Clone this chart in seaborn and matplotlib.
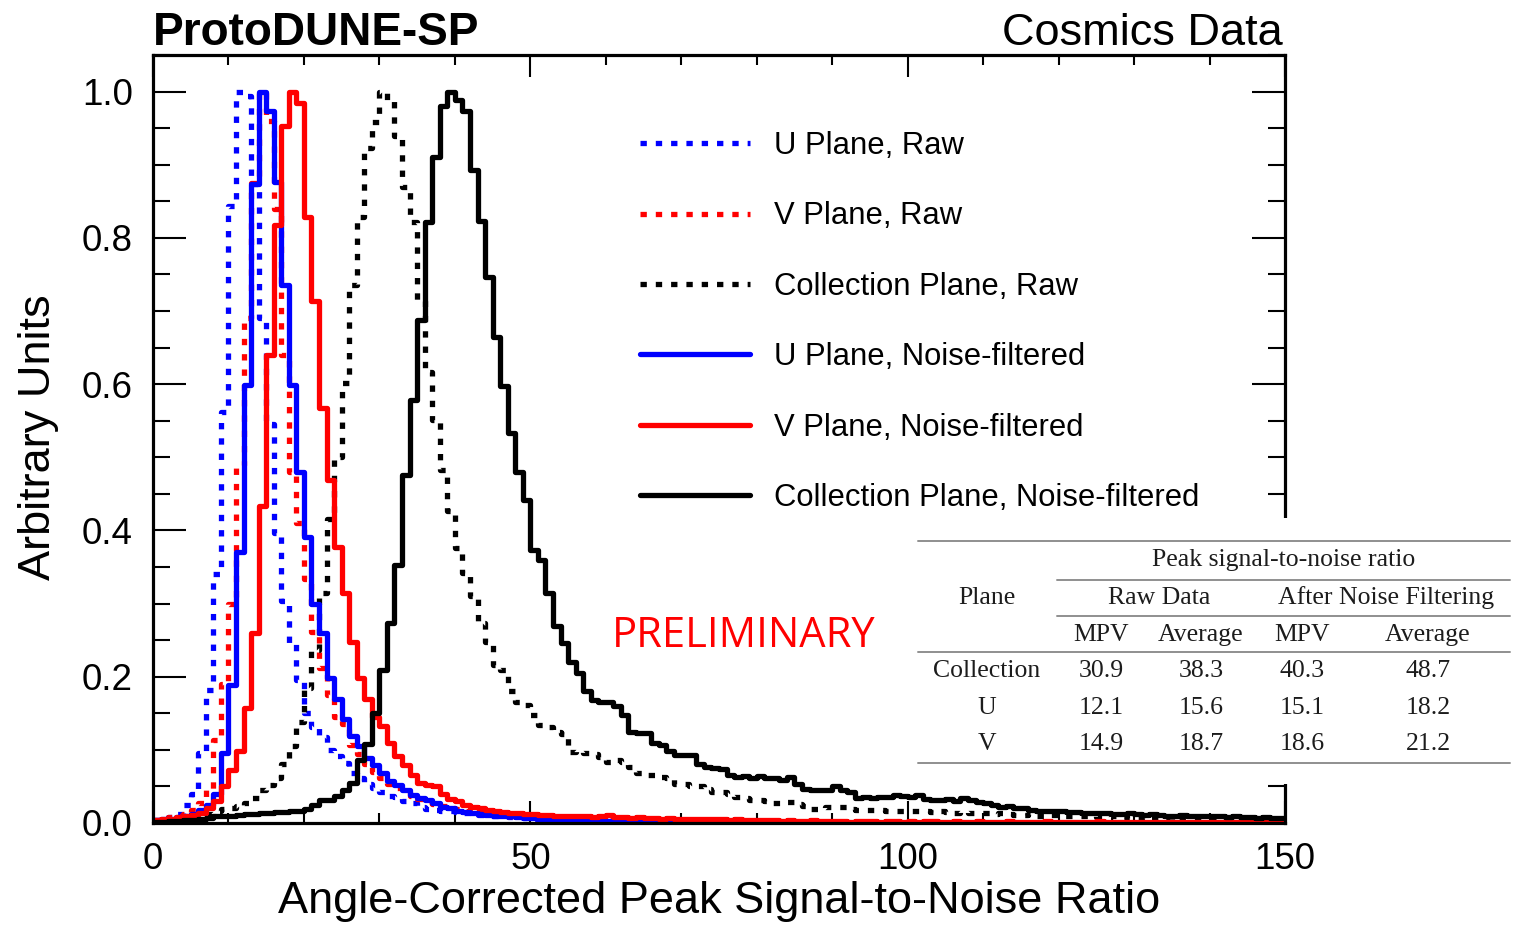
import numpy as np
import pandas as pd
import matplotlib
matplotlib.use("Agg")
import matplotlib.pyplot as plt
from matplotlib.lines import Line2D
from matplotlib.patches import Rectangle
from matplotlib.ticker import MultipleLocator, FormatStrFormatter
import seaborn as sns

# ---------------------------------------------------------------------------
# Normalised peak S/N distributions, unit-width bins starting at 0
# ---------------------------------------------------------------------------
u_raw = [
    0.004, 0.006, 0.008, 0.012, 0.025, 0.040, 0.096, 0.182, 0.340, 0.562,
    0.843, 1.000, 0.994, 0.873, 0.690, 0.545, 0.397, 0.303, 0.246, 0.196,
    0.150, 0.131, 0.118, 0.100, 0.091, 0.082, 0.068, 0.061, 0.054, 0.048,
    0.043, 0.037, 0.035, 0.030, 0.027, 0.022, 0.019, 0.018, 0.017, 0.016,
    0.015, 0.014, 0.012, 0.011, 0.010, 0.010, 0.009, 0.008, 0.008, 0.007,
    0.006, 0.006, 0.005, 0.005, 0.005, 0.004, 0.004, 0.004, 0.003, 0.003,
    0.003, 0.002, 0.002, 0.002, 0.002, 0.002, 0.001, 0.001, 0.001, 0.001,
]

v_raw = [
    0.004, 0.006, 0.008, 0.010, 0.012, 0.018, 0.027, 0.045, 0.113, 0.190,
    0.300, 0.490, 0.690, 0.875, 1.000, 0.960, 0.840, 0.640, 0.480, 0.410,
    0.333, 0.261, 0.212, 0.175, 0.145, 0.135, 0.107, 0.095, 0.080, 0.070,
    0.062, 0.054, 0.048, 0.042, 0.037, 0.033, 0.029, 0.026, 0.023, 0.021,
    0.019, 0.017, 0.015, 0.014, 0.012, 0.011, 0.010, 0.010, 0.009, 0.008,
    0.008, 0.007, 0.007, 0.006, 0.006, 0.005, 0.005, 0.005, 0.004, 0.004,
    0.004, 0.003, 0.003, 0.003, 0.003, 0.002, 0.002, 0.002, 0.002, 0.002,
]

c_raw = [
    0.003, 0.003, 0.004, 0.005, 0.006, 0.007, 0.009, 0.012, 0.016, 0.019,
    0.021, 0.023, 0.027, 0.034, 0.045, 0.052, 0.062, 0.080, 0.105, 0.138,
    0.185, 0.237, 0.315, 0.415, 0.500, 0.602, 0.736, 0.829, 0.923, 0.959,
    1.000, 0.988, 0.939, 0.869, 0.821, 0.713, 0.616, 0.551, 0.483, 0.426,
    0.376, 0.342, 0.310, 0.273, 0.247, 0.216, 0.209, 0.180, 0.165, 0.162,
    0.148, 0.134, 0.131, 0.125, 0.122, 0.097, 0.098, 0.096, 0.095, 0.090,
    0.084, 0.086, 0.084, 0.077, 0.068, 0.066, 0.066, 0.063, 0.061, 0.054,
    0.054, 0.050, 0.050, 0.047, 0.043, 0.043, 0.040, 0.036, 0.034, 0.031,
    0.031, 0.030, 0.028, 0.028, 0.029, 0.026, 0.023, 0.019, 0.019, 0.022,
    0.022, 0.022, 0.019, 0.018, 0.018, 0.018, 0.018, 0.016, 0.016, 0.016,
    0.017, 0.016, 0.017, 0.015, 0.016, 0.015, 0.014, 0.015, 0.014, 0.013,
    0.013, 0.012, 0.013, 0.012, 0.011, 0.011, 0.012, 0.010, 0.010, 0.011,
    0.010, 0.009, 0.009, 0.010, 0.009, 0.008, 0.008, 0.009, 0.008, 0.007,
    0.007, 0.008, 0.007, 0.007, 0.006, 0.007, 0.006, 0.006, 0.006, 0.005,
    0.006, 0.005, 0.005, 0.005, 0.005, 0.004, 0.005, 0.004, 0.004, 0.004,
]

u_filt = [
    0.004, 0.005, 0.006, 0.008, 0.010, 0.012, 0.018, 0.025, 0.040, 0.096,
    0.189, 0.371, 0.599, 0.873, 1.000, 0.973, 0.877, 0.736, 0.599, 0.480,
    0.391, 0.300, 0.260, 0.198, 0.170, 0.142, 0.119, 0.105, 0.089, 0.079,
    0.069, 0.058, 0.052, 0.045, 0.038, 0.034, 0.031, 0.027, 0.022, 0.020,
    0.017, 0.015, 0.014, 0.012, 0.011, 0.010, 0.009, 0.009, 0.008, 0.007,
    0.007, 0.006, 0.006, 0.005, 0.005, 0.005, 0.004, 0.004, 0.004, 0.003,
    0.003, 0.003, 0.002, 0.002, 0.002, 0.002, 0.002, 0.001, 0.001, 0.001,
]

v_filt = [
    0.004, 0.005, 0.006, 0.008, 0.010, 0.011, 0.014, 0.020, 0.030, 0.050,
    0.072, 0.098, 0.157, 0.260, 0.433, 0.640, 0.818, 0.953, 1.000, 0.985,
    0.828, 0.713, 0.568, 0.469, 0.378, 0.315, 0.248, 0.198, 0.170, 0.145,
    0.132, 0.109, 0.091, 0.079, 0.066, 0.055, 0.052, 0.050, 0.040, 0.033,
    0.030, 0.025, 0.022, 0.020, 0.018, 0.016, 0.015, 0.014, 0.013, 0.012,
    0.012, 0.011, 0.011, 0.010, 0.010, 0.009, 0.010, 0.009, 0.008, 0.009,
    0.011, 0.008, 0.008, 0.007, 0.008, 0.007, 0.007, 0.006, 0.007, 0.006,
    0.006, 0.005, 0.006, 0.005, 0.005, 0.005, 0.004, 0.005, 0.004, 0.004,
    0.004, 0.004, 0.004, 0.003, 0.004, 0.003, 0.003, 0.004, 0.003, 0.003,
    0.003, 0.003, 0.002, 0.003, 0.003, 0.003, 0.002, 0.003, 0.003, 0.002,
    0.003, 0.002, 0.003, 0.003, 0.002, 0.002, 0.003, 0.002, 0.002, 0.003,
    0.002, 0.002, 0.002, 0.003, 0.002, 0.002, 0.002, 0.002, 0.003, 0.002,
    0.002, 0.002, 0.002, 0.002, 0.002, 0.003, 0.002, 0.002, 0.002, 0.002,
    0.002, 0.002, 0.002, 0.002, 0.002, 0.002, 0.002, 0.002, 0.002, 0.002,
    0.002, 0.002, 0.002, 0.002, 0.002, 0.002, 0.002, 0.002, 0.002, 0.002,
]

c_filt = [
    0.002, 0.002, 0.003, 0.003, 0.004, 0.004, 0.005, 0.007, 0.009, 0.010,
    0.010, 0.011, 0.012, 0.012, 0.013, 0.014, 0.015, 0.015, 0.016, 0.017,
    0.019, 0.024, 0.031, 0.032, 0.037, 0.045, 0.055, 0.086, 0.108, 0.150,
    0.209, 0.273, 0.353, 0.476, 0.579, 0.688, 0.821, 0.911, 0.980, 1.000,
    0.989, 0.973, 0.893, 0.823, 0.746, 0.665, 0.597, 0.533, 0.480, 0.442,
    0.373, 0.360, 0.315, 0.269, 0.246, 0.220, 0.205, 0.180, 0.168, 0.165,
    0.165, 0.160, 0.147, 0.124, 0.123, 0.123, 0.109, 0.106, 0.098, 0.093,
    0.093, 0.093, 0.080, 0.076, 0.075, 0.074, 0.065, 0.063, 0.064, 0.062,
    0.064, 0.061, 0.061, 0.059, 0.063, 0.054, 0.046, 0.045, 0.045, 0.045,
    0.050, 0.045, 0.043, 0.034, 0.035, 0.034, 0.035, 0.036, 0.038, 0.037,
    0.036, 0.038, 0.033, 0.032, 0.031, 0.033, 0.030, 0.034, 0.032, 0.029,
    0.028, 0.025, 0.022, 0.023, 0.021, 0.020, 0.018, 0.017, 0.016, 0.017,
    0.016, 0.015, 0.015, 0.013, 0.013, 0.014, 0.013, 0.012, 0.012, 0.013,
    0.012, 0.011, 0.012, 0.011, 0.010, 0.010, 0.011, 0.010, 0.009, 0.010,
    0.009, 0.009, 0.008, 0.009, 0.008, 0.008, 0.007, 0.008, 0.007, 0.007,
]

series_labels = [
    "U Plane, Raw", "V Plane, Raw", "Collection Plane, Raw",
    "U Plane, Noise-filtered", "V Plane, Noise-filtered",
    "Collection Plane, Noise-filtered",
]

# Summary table values
table_planes = ["Collection", "U", "V"]
raw_mpv = [30.9, 12.1, 14.9]
raw_avg = [38.3, 15.6, 18.7]
filt_mpv = [40.3, 15.1, 18.6]
filt_avg = [48.7, 18.2, 21.2]

# ---------------------------------------------------------------------------
sns.set_style("white")
plt.rcParams["font.family"] = ["Liberation Sans", "DejaVu Sans"]
plt.rcParams.update({
    "text.color": "black",
    "axes.labelcolor": "black",
    "xtick.color": "black",
    "ytick.color": "black",
})

W, H = 1516, 927
fig = plt.figure(figsize=(W / 100, H / 100), dpi=100)
ax = fig.add_axes([153 / W, 1 - 823 / H, (1285 - 153) / W, (823 - 55) / H])

LW = 3.8
dotted = (0, (1.2, 1.7))
styles = [
    ("#0000ff", dotted), ("#ff0000", dotted), ("#000000", dotted),
    ("#0000ff", "-"), ("#ff0000", "-"), ("#000000", "-"),
]
all_series = [u_raw, v_raw, c_raw, u_filt, v_filt, c_filt]

handles = []
for vals, (col, ls), lab in zip(all_series, styles, series_labels):
    n = len(vals)
    frame = pd.DataFrame({"snr": np.arange(n) + 0.5, "w": vals})
    sns.histplot(data=frame, x="snr", weights="w", binwidth=1, binrange=(0, n),
                 element="step", fill=False, color=col, linestyle=ls,
                 linewidth=LW, ax=ax)
    handles.append(Line2D([], [], color=col, linestyle=ls, linewidth=LW))

ax.set_xlim(0, 150)
ax.set_ylim(0, 1.05)

ax.xaxis.set_major_locator(MultipleLocator(50))
ax.xaxis.set_minor_locator(MultipleLocator(10))
ax.yaxis.set_major_locator(MultipleLocator(0.2))
ax.yaxis.set_minor_locator(MultipleLocator(0.05))
ax.xaxis.set_major_formatter(FormatStrFormatter("%d"))
ax.yaxis.set_major_formatter(FormatStrFormatter("%.1f"))

ax.tick_params(axis="x", which="major", direction="in", length=15.8, width=1.5,
               top=True, bottom=True, labelsize=26.5, pad=14, colors="black")
ax.tick_params(axis="x", which="minor", direction="in", length=7.2, width=1.5,
               top=True, bottom=True, colors="black")
ax.tick_params(axis="y", which="major", direction="in", length=23.8, width=1.5,
               left=True, right=True, labelsize=26.5, pad=14.5, colors="black")
ax.tick_params(axis="y", which="minor", direction="in", length=12.2, width=1.5,
               left=True, right=True, colors="black")
for sp in ax.spines.values():
    sp.set_linewidth(2.3)
    sp.set_color("black")

ax.set_xlabel("Angle-Corrected Peak Signal-to-Noise Ratio", fontsize=32.5, color="black")
ax.xaxis.set_label_coords(0.5, (823 - 913) / 768)
ax.xaxis.label.set_va("baseline")
ax.set_ylabel("Arbitrary Units", fontsize=32.5, color="black")
ax.yaxis.set_label_coords((50 - 153) / 1132, (823 - 437) / 768)
ax.yaxis.label.set_va("baseline")

leg = ax.legend(handles, series_labels, loc="upper left",
                bbox_to_anchor=(640 / W, 1 - 131 / H), bbox_transform=fig.transFigure,
                frameon=False, fontsize=22.3, handlelength=3.55, handletextpad=0.77,
                labelspacing=1.305, borderpad=0, borderaxespad=0)
for t in leg.get_texts():
    t.set_color("black")

fig.text(153 / W, 1 - 45 / H, "ProtoDUNE-SP", fontsize=33, fontweight="bold",
         ha="left", va="baseline", color="black")
fig.text(1283 / W, 1 - 45 / H, "Cosmics Data", fontsize=32.5,
         ha="right", va="baseline", color="black")
fig.text(612 / W, 1 - 647 / H, "PRELIMINARY", fontsize=30, color="#ff0000",
         family=["Open Sans", "DejaVu Sans"], ha="left", va="baseline")

# Summary table on a white panel
fig.add_artist(Rectangle((915 / W, 1 - 784 / H), (W - 915) / W, (784 - 518) / H,
                         transform=fig.transFigure, facecolor="white",
                         edgecolor="none", zorder=5))

def rule(x0, x1, y):
    fig.add_artist(Line2D([x0 / W, x1 / W], [1 - y / H, 1 - y / H],
                          transform=fig.transFigure, color="#8f8f8f",
                          linewidth=1.4, zorder=6))

for y, x0 in [(541, 918), (580, 1057), (616, 1057), (652, 918), (763, 918)]:
    rule(x0, 1510, y)

tkw = dict(fontsize=18.5, color="#1c1c1c", family=["Liberation Serif", "DejaVu Serif"],
           ha="center", va="baseline", zorder=7)

def ttext(x, y, s):
    fig.text(x / W, 1 - y / H, s, **tkw)

ttext(1284, 566, "Peak signal-to-noise ratio")
ttext(987, 604, "Plane")
ttext(1159, 604, "Raw Data")
ttext(1386, 604, "After Noise Filtering")
for x, s in [(1101, "MPV"), (1201, "Average"), (1302, "MPV"), (1428, "Average")]:
    ttext(x, 641, s)
for i, plane in enumerate(table_planes):
    yb = 677 + i * 36.5
    ttext(987, yb, plane)
    ttext(1101, yb, f"{raw_mpv[i]:.1f}")
    ttext(1201, yb, f"{raw_avg[i]:.1f}")
    ttext(1302, yb, f"{filt_mpv[i]:.1f}")
    ttext(1428, yb, f"{filt_avg[i]:.1f}")

fig.savefig("out.png", dpi=100, facecolor="white")
